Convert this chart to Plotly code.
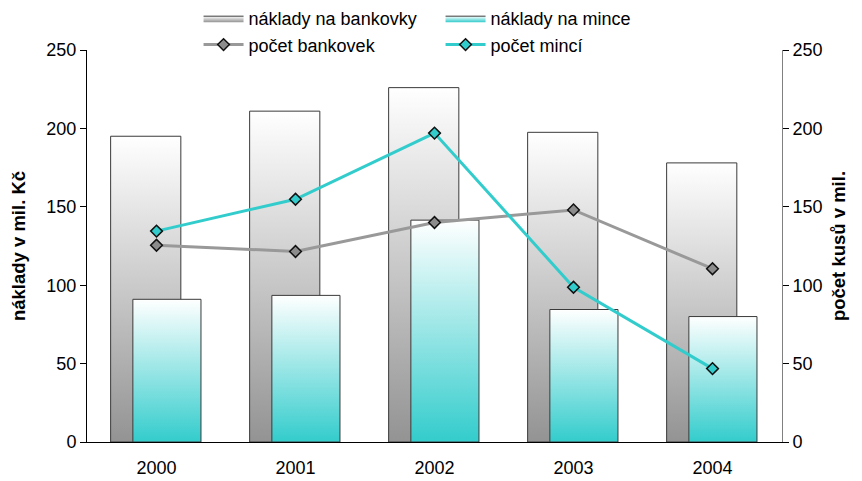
import plotly.graph_objects as go

years = ["2000", "2001", "2002", "2003", "2004"]
naklady_bankovky = [195, 211, 226, 197.5, 178]
naklady_mince = [91, 93.5, 141.5, 84.5, 80]
pocet_bankovek = [125.5, 121.5, 140, 148, 110.5]
pocet_minci = [134.5, 154.8, 197, 98.7, 46.8]

FONT = "Liberation Sans, Arial, sans-serif"
GRAY_LINE = "#999999"
CYAN = "#33CCCC"

# bar geometry in category units (styles, not data)
BANK_OFF = (-0.33, 0.175)
MINC_OFF = (-0.17, 0.32)

fig = go.Figure()


def add_bars(values, off, name, bottom_color, first_legend):
    for i, v in enumerate(values):
        x0, x1 = i + off[0], i + off[1]
        fig.add_trace(go.Scatter(
            x=[x0, x0, x1, x1, x0],
            y=[0, v, v, 0, 0],
            mode="lines",
            fill="toself",
            fillgradient=dict(type="vertical",
                              colorscale=[[0, bottom_color], [1, "#ffffff"]]),
            line=dict(color="#3a3a3a", width=1),
            name=name,
            legendgroup=name,
            showlegend=(i == 0 and first_legend),
            hoverinfo="skip",
            yaxis="y",
        ))


add_bars(naklady_bankovky, BANK_OFF, "náklady na bankovky", "#939393", True)
add_bars(naklady_mince, MINC_OFF, "náklady na mince", CYAN, True)

xs = list(range(len(years)))
fig.add_trace(go.Scatter(
    x=xs, y=pocet_bankovek, mode="lines+markers", name="počet bankovek",
    line=dict(color=GRAY_LINE, width=3),
    marker=dict(symbol="diamond", size=9, color="#8c8c8c",
                line=dict(color="#111111", width=1.5)),
    yaxis="y2",
))
fig.add_trace(go.Scatter(
    x=xs, y=pocet_minci, mode="lines+markers", name="počet mincí",
    line=dict(color=CYAN, width=3),
    marker=dict(symbol="diamond", size=9, color=CYAN,
                line=dict(color="#111111", width=1.5)),
    yaxis="y2",
))

fig.update_layout(
    width=862, height=481,
    margin=dict(l=78.5, r=87.5, t=42, b=47, pad=0, autoexpand=False),
    paper_bgcolor="white", plot_bgcolor="white",
    font=dict(family=FONT, size=18, color="black"),
    showlegend=True,
    legend=dict(
        orientation="h",
        x=0.1605, xanchor="left",
        y=1.1276, yref="paper", yanchor="top",
        entrywidth=187, entrywidthmode="pixels",
        font=dict(family=FONT, size=18, color="black"),
        bgcolor="rgba(0,0,0,0)",
        itemwidth=40,
        traceorder="normal",
    ),
    xaxis=dict(
        range=[-0.5, 4.5],
        tickvals=xs, ticktext=years,
        showgrid=False, zeroline=False,
        showline=True, linecolor="black", linewidth=1,
        ticks="", tickfont=dict(size=18),
        ticklabelstandoff=9,
        fixedrange=True,
    ),
    yaxis=dict(
        range=[0, 250], tickvals=[0, 50, 100, 150, 200, 250],
        showgrid=False, zeroline=False,
        showline=True, linecolor="black", linewidth=1,
        ticks="outside", ticklen=6, tickcolor="black",
        tickfont=dict(size=18),
        title=dict(text="<b>náklady v mil. Kč</b>", font=dict(size=18.5), standoff=18),
    ),
    yaxis2=dict(
        range=[0, 250], tickvals=[0, 50, 100, 150, 200, 250],
        overlaying="y", side="right", anchor="x",
        showgrid=False, zeroline=False,
        showline=True, linecolor="#808080", linewidth=1,
        ticks="outside", ticklen=6, tickcolor="black",
        tickfont=dict(size=18),
        title=dict(text="<b>počet kusů v mil.</b>", font=dict(size=18.5), standoff=10),
    ),
)

fig.write_html("out.html")
